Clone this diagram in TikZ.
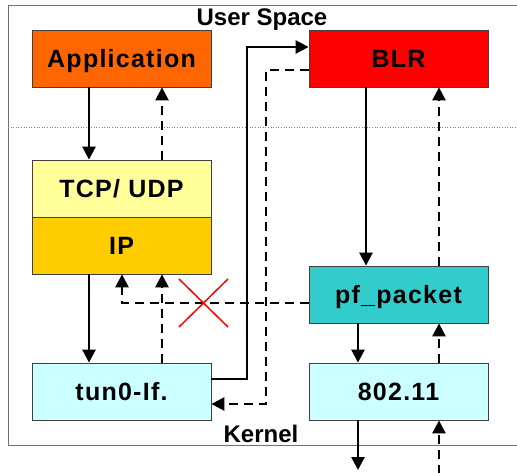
\documentclass[tikz,border=0pt]{standalone}
\usepackage{fontspec}
\setmainfont{Liberation Sans}
\newfontfamily\boxfont[LetterSpace=5]{Liberation Sans}
\usetikzlibrary{arrows.meta}
\definecolor{cApp}{HTML}{FF6600}
\definecolor{cTcp}{HTML}{FFFF99}
\definecolor{cIp}{HTML}{FFCC00}
\definecolor{cTun}{HTML}{CCFFFF}
\definecolor{cBlr}{HTML}{FF0000}
\definecolor{cPf}{HTML}{33CCCC}
\definecolor{cFrame}{HTML}{707070}
\tikzset{
  box/.style={draw=black!75, line width=0.8pt, minimum width=179pt, minimum height=57pt,
    inner sep=0pt, text height=18pt, text depth=0pt,
    font=\boxfont\bfseries\fontsize{25}{29}\selectfont},
  zone/.style={font=\bfseries\fontsize{24}{28}\selectfont, inner sep=0pt,
    text height=17.2pt, text depth=0pt},
  sarrow/.style={line width=2.6pt, -{Triangle[width=13pt,length=13pt]}},
  darrow/.style={line width=2.6pt, dash pattern=on 9pt off 6pt, -{Triangle[width=13pt,length=13pt]}},
  cross/.style={draw=red, line width=1.5pt}
}
\begin{document}
\begin{tikzpicture}[x=1pt,y=-1pt]
\useasboundingbox (0,0) rectangle (517,472);
% frame and separator
\draw[cFrame, line width=1pt] (530,5) -- (8,5) -- (8,445) -- (530,445);
\draw[gray, line width=0.6pt, dotted] (8,127) -- (517,127);
\node[zone] (us) at (262,16.5) {User Space};
\node[zone] (kn) at (261,433.5) {Kernel};
% boxes
\node[box, fill=cApp] (app) at (121.5,58.5) {Application};
\node[box, fill=cTcp] (tcp) at (121.5,188.5) {TCP/ UDP};
\node[box, fill=cIp]  (ip)  at (121.5,245.5) {IP};
\node[box, fill=cTun] (tun) at (121.5,391.5) {tun0-If.};
\node[box, fill=cBlr] (blr) at (398.5,58.5) {BLR};
\node[box, fill=cPf]  (pf)  at (398.5,294.5) {pf\_packet};
\node[box, fill=cTun] (wl)  at (398.5,391.5) {802.11};
% helper coordinates
\coordinate (L1) at (89,0);
\coordinate (L2) at (162,0);
\coordinate (L3) at (122,0);
\coordinate (M1) at (247,0);
\coordinate (M2) at (266,0);
\coordinate (R1) at (366,0);
\coordinate (R2) at (439,0);
\coordinate (R3) at (358,0);
\coordinate (Y1) at (0,303);
\coordinate (Y2) at (0,379);
\coordinate (Y3) at (0,47);
\coordinate (Y4) at (0,70);
\coordinate (Y5) at (0,404);
\coordinate (outS) at (358,470);
\coordinate (inD) at (439,474);
% left stack
\draw[sarrow] (app.south -| L1) -- (tcp.north -| L1);
\draw[darrow] (tcp.north -| L2) -- (app.south -| L2);
\draw[sarrow] (ip.south -| L1) -- (tun.north -| L1);
\draw[darrow] (tun.north -| L2) -- (ip.south -| L2);
% pf_packet to IP (blocked)
\draw[darrow] (pf.west |- Y1) -- (L3 |- Y1) -- (ip.south -| L3);
\draw[cross] (179,279) -- (228,327);
\draw[cross] (179,327) -- (228,279);
% tun0 <-> BLR
\draw[sarrow] (tun.east |- Y2) -- (M1 |- Y2) -- (M1 |- Y3) -- (blr.west |- Y3);
\draw[darrow] (blr.west |- Y4) -- (M2 |- Y4) -- (M2 |- Y5) -- (tun.east |- Y5);
% right stack
\draw[sarrow] (blr.south -| R1) -- (pf.north -| R1);
\draw[darrow] (pf.north -| R2) -- (blr.south -| R2);
\draw[sarrow] (pf.south -| R3) -- (wl.north -| R3);
\draw[darrow] (wl.north -| R2) -- (pf.south -| R2);
\draw[sarrow] (wl.south -| R3) -- (outS);
\draw[darrow] (inD) -- (wl.south -| R2);
\end{tikzpicture}
\end{document}
